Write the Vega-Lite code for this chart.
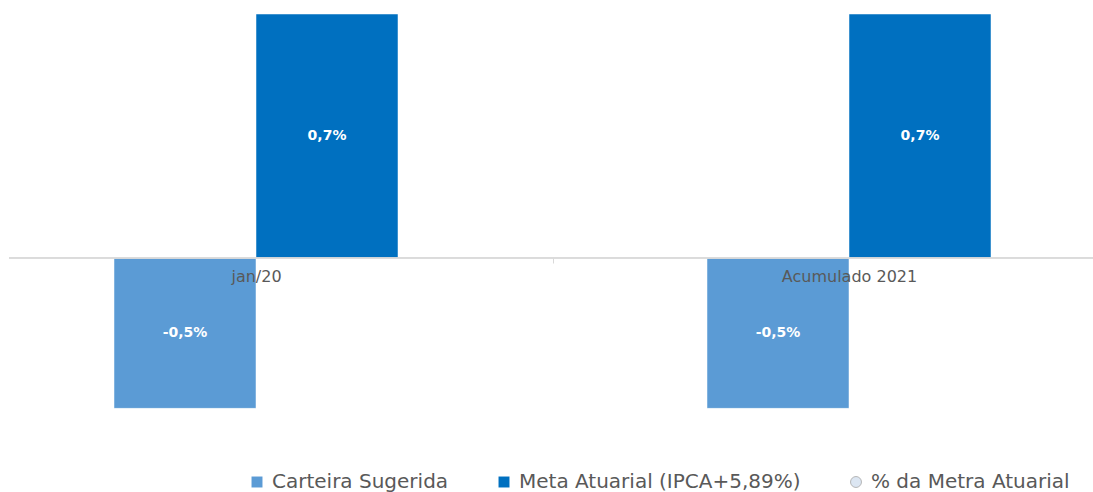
{
  "$schema": "https://vega.github.io/schema/vega-lite/v6.json",
  "autosize": {"type": "none"},
  "padding": {"left": 9, "top": 0, "right": 0, "bottom": 0},
  "width": 1084,
  "height": 492,
  "background": "white",
  "config": {
    "view": {"stroke": null},
    "font": "DejaVu Sans",
    "locale": {
      "number": {"decimal": ",", "thousands": ".", "grouping": [3], "currency": ["R$", ""], "minus": "-"}
    }
  },
  "data": {
    "values": [
      {"periodo": "jan/20", "serie": "Carteira Sugerida", "valor": -0.00456},
      {"periodo": "jan/20", "serie": "Meta Atuarial (IPCA+5,89%)", "valor": 0.0074},
      {"periodo": "Acumulado 2021", "serie": "Carteira Sugerida", "valor": -0.00456},
      {"periodo": "Acumulado 2021", "serie": "Meta Atuarial (IPCA+5,89%)", "valor": 0.0074}
    ]
  },
  "layer": [
    {
      "mark": {"type": "bar", "stroke": "white", "strokeWidth": 0.5},
      "encoding": {
        "x": {
          "field": "periodo", "type": "nominal", "sort": ["jan/20", "Acumulado 2021"],
          "scale": {"range": [-49.5, 1136.5], "paddingInner": 0, "paddingOuter": 0},
          "axis": {
            "title": null, "orient": "bottom", "offset": -234, "domain": false,
            "ticks": true, "tickBand": "extent", "tickSize": 5, "tickColor": "#D9D9D9", "tickWidth": 1,
            "labelAngle": 0, "labelFontSize": 16, "labelColor": "#595959", "labelPadding": 5, "zindex": 1
          }
        },
        "xOffset": {
          "field": "serie", "type": "nominal",
          "scale": {"domain": ["esq", "Carteira Sugerida", "Meta Atuarial (IPCA+5,89%)", "dir"], "paddingInner": 0, "paddingOuter": 0.088}
        },
        "y": {
          "field": "valor", "type": "quantitative",
          "scale": {"domain": [-0.0070966, 0.0078246], "nice": false, "zero": false},
          "axis": null
        },
        "color": {
          "field": "serie", "type": "nominal",
          "scale": {"domain": ["Carteira Sugerida", "Meta Atuarial (IPCA+5,89%)", "% da Metra Atuarial"], "range": ["#5B9BD5", "#0070C0", "#DCE6F2"]}
        }
      }
    },
    {
      "mark": {"type": "rule", "color": "#D9D9D9", "strokeWidth": 1},
      "encoding": {"y": {"datum": 0, "type": "quantitative"}}
    },
    {
      "transform": [{"calculate": "datum.valor / 2", "as": "meio"}],
      "mark": {"type": "text", "color": "white", "fontWeight": "bold", "fontSize": 14, "baseline": "middle", "align": "center"},
      "encoding": {
        "x": {"field": "periodo", "type": "nominal", "sort": ["jan/20", "Acumulado 2021"]},
        "xOffset": {"field": "serie", "type": "nominal"},
        "y": {"field": "meio", "type": "quantitative"},
        "text": {"field": "valor", "type": "quantitative", "format": ".1%"}
      }
    },
    {
      "mark": {"type": "point", "filled": true, "opacity": 0},
      "encoding": {
        "color": {
          "field": "serie", "type": "nominal",
          "legend": {
            "title": null, "orient": "none", "direction": "horizontal", "legendX": 238, "legendY": 472,
            "symbolSize": 120, "symbolOpacity": 1, "labelFontSize": 20, "labelColor": "#595959", "labelLimit": 600,
            "columnPadding": 45, "labelOffset": 5,
            "encode": {"symbols": {"update": {"stroke": {"signal": "datum.value === '% da Metra Atuarial' ? '#A6A6A6' : 'transparent'"}, "strokeWidth": {"value": 0.8}}}}
          }
        },
        "shape": {
          "field": "serie", "type": "nominal",
          "scale": {"domain": ["Carteira Sugerida", "Meta Atuarial (IPCA+5,89%)", "% da Metra Atuarial"], "range": ["square", "square", "circle"]},
          "legend": {
            "title": null, "orient": "none", "direction": "horizontal", "legendX": 238, "legendY": 472,
            "symbolSize": 120, "symbolOpacity": 1, "labelFontSize": 20, "labelColor": "#595959", "labelLimit": 600,
            "columnPadding": 45, "labelOffset": 5,
            "encode": {"symbols": {"update": {"stroke": {"signal": "datum.value === '% da Metra Atuarial' ? '#A6A6A6' : 'transparent'"}, "strokeWidth": {"value": 0.8}}}}
          }
        }
      }
    }
  ]
}
